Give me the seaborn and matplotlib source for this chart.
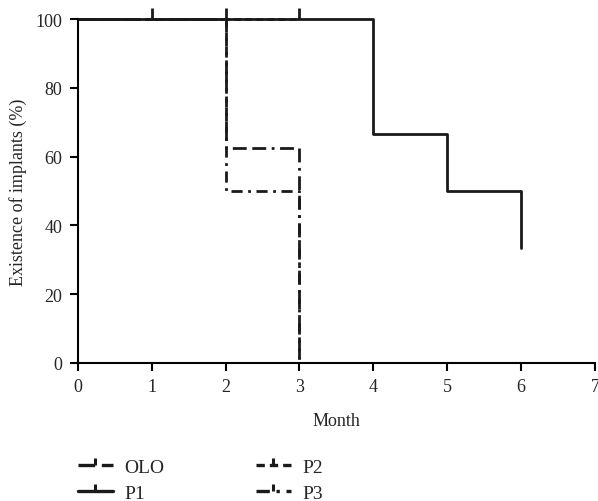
import matplotlib
matplotlib.use("Agg")
import matplotlib.pyplot as plt
from matplotlib.lines import Line2D
import seaborn as sns
import pandas as pd

# Kaplan-Meier style step data (month, existence %)
olo_month = [0, 2, 3]
olo_value = [100, 62.5, 0]
p1_month = [0, 4, 5, 6]
p1_value = [100, 66.7, 50, 33.3]
p2_month = [0, 3]
p2_value = [100, 100]
p3_month = [0, 2, 3]
p3_value = [100, 50, 0]
p1_last_month = [6, 6]
p1_last_value = [50, 33.3]
censor_month = [1, 2, 3]
censor_value = [100, 100, 100]

series_names = ["OLO", "P1", "P2", "P3"]
x_ticks = [0, 1, 2, 3, 4, 5, 6, 7]
y_ticks = [0, 20, 40, 60, 80, 100]

sns.set_theme(style="ticks")
plt.rcParams["font.family"] = ["Liberation Serif", "DejaVu Serif"]

fig = plt.figure(figsize=(5.98, 5.02), dpi=100)
ax = fig.add_axes([0.130, 0.275, 0.865, 0.685])

styles = {
    "OLO": (0, (5, 2, 5, 2, 1, 2)),
    "P1": "-",
    "P2": (0, (2.5, 1.5)),
    "P3": (0, (4, 2, 1, 2)),
}
data = {
    "OLO": (olo_month, olo_value),
    "P1": (p1_month, p1_value),
    "P2": (p2_month, p2_value),
    "P3": (p3_month, p3_value),
}

lw = 2.0
col = "#1a1a1a"
for name in ["P2", "P3", "OLO", "P1"]:
    xs, ys = data[name]
    df = pd.DataFrame({"m": xs, "v": ys})
    sns.lineplot(data=df, x="m", y="v", ax=ax, color=col, lw=lw,
                 drawstyle="steps-post", linestyle=styles[name],
                 clip_on=False, legend=False)

# P1 final drop at month 6
sns.lineplot(x=p1_last_month, y=p1_last_value, ax=ax, color=col, lw=lw,
             legend=False, clip_on=False)

# censor tick marks
ax.plot(censor_month, censor_value, linestyle="none", marker=2,
        markersize=8, markeredgewidth=2, color=col, clip_on=False)

ax.set_xlim(0, 7)
ax.set_ylim(0, 100)
ax.set_xticks(x_ticks)
ax.set_yticks(y_ticks)
ax.set_xlabel("Month", fontsize=13, labelpad=12)
ax.set_ylabel("Existence of implants (%)", fontsize=13, labelpad=6)
ax.tick_params(axis="both", labelsize=13, direction="out", length=6,
               width=1.5, color="black", pad=5)
sns.despine(ax=ax)
for s in ["left", "bottom"]:
    ax.spines[s].set_linewidth(1.5)
    ax.spines[s].set_color("black")

handles = []
for name in series_names:
    handles.append(Line2D([0], [0], color=col, lw=2.4, linestyle=styles[name],
                          marker=2, markersize=5, markeredgewidth=2.2))
leg = fig.legend(handles=handles, labels=series_names, ncol=2,
                 loc="lower left", bbox_to_anchor=(0.101, -0.037),
                 frameon=False, fontsize=14, handlelength=1.8,
                 handletextpad=0.6, columnspacing=4.7, labelspacing=0.46,
                 numpoints=1)

fig.savefig("out.png", dpi=100)
